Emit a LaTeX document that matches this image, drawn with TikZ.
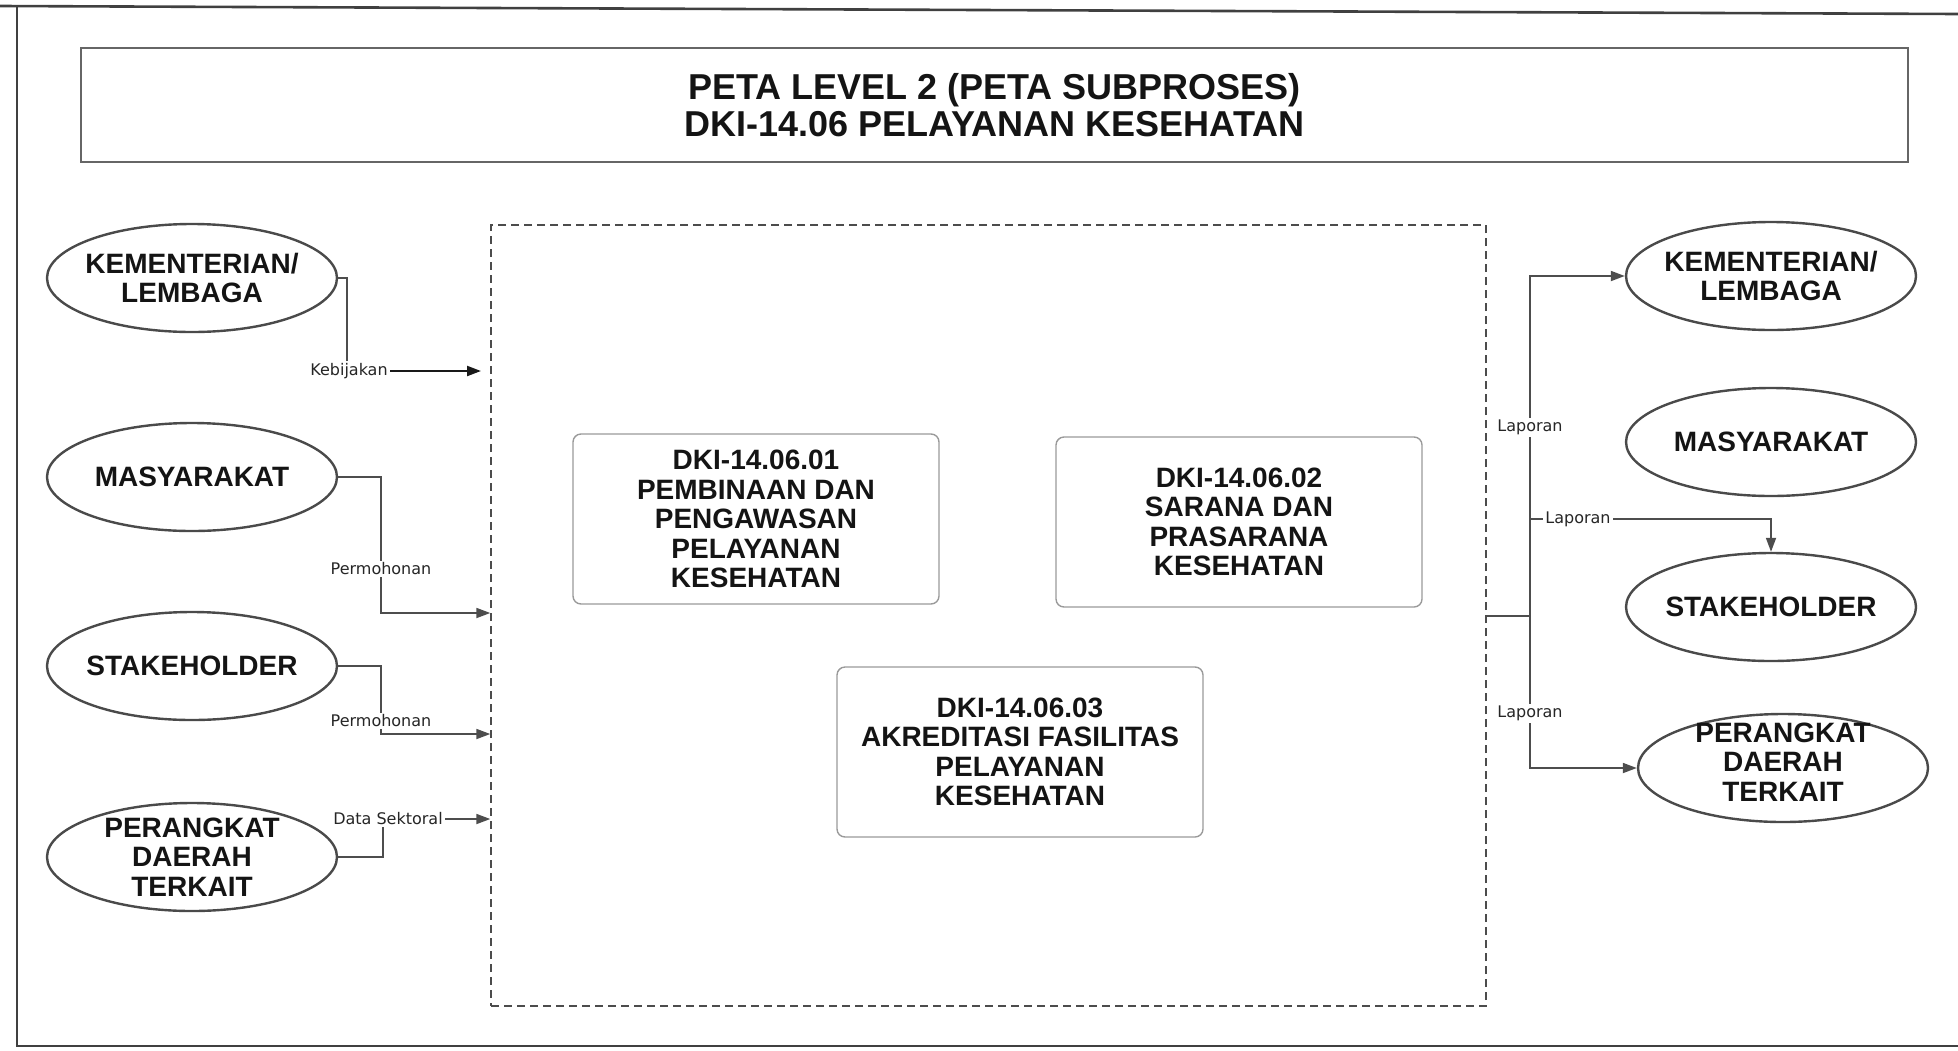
\documentclass[tikz,border=0pt]{standalone}
\usepackage{fontspec}
\setmainfont{Liberation Sans}
\newfontfamily\lblfont{DejaVu Sans}
\usetikzlibrary{arrows.meta,shapes.geometric,fit}
\definecolor{framegray}{HTML}{404040}
\definecolor{ellgray}{HTML}{4A4A4A}
\definecolor{boxgray}{HTML}{9A9A9A}
\definecolor{linegray}{HTML}{4D4D4D}
\definecolor{txt}{HTML}{141414}
\begin{document}
\begin{tikzpicture}[x=0.5pt,y=-0.5pt,
  ell/.style={draw=ellgray, line width=1.2pt, ellipse, minimum width=145pt, minimum height=54pt, inner sep=0pt},
  elltxt/.style={font=\bfseries\fontsize{14}{14.8}\selectfont, align=center, inner sep=0pt, text=txt},
  procbox/.style={draw=boxgray, line width=0.7pt, rounded corners=4pt, minimum width=183pt, minimum height=85pt, align=center, font=\bfseries\fontsize{14}{14.75}\selectfont, inner sep=0pt, text=txt},
  conn/.style={draw=linegray, line width=0.9pt},
  arr/.style={conn, -{Triangle[length=7pt,width=5pt]}},
  lbl/.style={font=\lblfont\fontsize{8}{9}\selectfont, text=black!85, fill=white, inner sep=1pt}
]
\useasboundingbox (0,0) rectangle (1958,1050);
% outer frame
\draw[framegray, line width=1.3pt] (0,6) -- (1958,14);
\draw[framegray, line width=1.3pt] (17,6) -- (17,1046) -- (1958,1046);
% title
\node[draw=black!60, line width=1pt, minimum width=913.5pt, minimum height=57pt, align=center,
      font=\bfseries\fontsize{18}{18.5}\selectfont, text=txt] (title) at (994.5,105)
  {PETA LEVEL 2 (PETA SUBPROSES)\\DKI-14.06 PELAYANAN KESEHATAN};
% dashed container
\node[draw=black!70, line width=0.7pt, dash pattern=on 4pt off 2.5pt, fit={(491,225) (1486,1006)}, inner sep=0pt] (dbox) {};
% process boxes
\node[procbox] (p1) at (756,519) {DKI-14.06.01\\PEMBINAAN DAN\\PENGAWASAN\\PELAYANAN\\KESEHATAN};
\node[procbox] (p2) at (1239,522) {DKI-14.06.02\\SARANA DAN\\PRASARANA\\KESEHATAN};
\node[procbox] (p3) at (1020,752) {DKI-14.06.03\\AKREDITASI FASILITAS\\PELAYANAN\\KESEHATAN};
% left ellipses
\node[ell] (lk) at (192,278) {};
\node[elltxt] (lkt) at (lk) {KEMENTERIAN/\\LEMBAGA};
\node[ell] (lm) at (192,477) {};
\node[elltxt] (lmt) at (lm) {MASYARAKAT};
\node[ell] (ls) at (192,666) {};
\node[elltxt] (lst) at (ls) {STAKEHOLDER};
\node[ell] (lp) at (192,857) {};
\node[elltxt] (lpt) at (lp) {PERANGKAT\\DAERAH\\TERKAIT};
% right ellipses
\node[ell] (rk) at (1771,276) {};
\node[elltxt] (rkt) at (rk) {KEMENTERIAN/\\LEMBAGA};
\node[ell] (rm) at (1771,442) {};
\node[elltxt] (rmt) at (rm) {MASYARAKAT};
\node[ell] (rs) at (1771,607) {};
\node[elltxt] (rst) at (rs) {STAKEHOLDER};
\node[ell] (rp) at (1783,768) {};
\node[elltxt] (rpt) at ([yshift=3pt]rp.center) {PERANGKAT\\DAERAH\\TERKAIT};
% left connectors
\coordinate (kend) at (481,371);
\draw[conn] (lk.east) -| (347,371);
\draw[arr, draw=black!90, line width=1.1pt] (347,371) -- (kend);
\node[lbl] (l1) at (349,371) {Kebijakan};
\draw[arr] (lm.east) -| (381,613) -- (dbox.west |- 0,613);
\node[lbl] (l2) at (381,569) {Permohonan};
\draw[arr] (ls.east) -| (381,734) -- (dbox.west |- 0,734);
\node[lbl] (l3) at (381,721) {Permohonan};
\draw[arr] (lp.east) -| (383,819) -- (dbox.west |- 0,819);
\node[lbl] (l4) at (388,819) {Data Sektoral};
% right connectors
\coordinate (junc) at (1530,616);
\draw[conn] (dbox.east |- 0,616) -- (junc);
\draw[arr] (junc) |- (rk.west);
\draw[arr] (junc) |- (rp.west);
\draw[arr] (1530,519) -| (rs.north);
\node[lbl] (r1) at (1530,427) {Laporan};
\node[lbl] (r2) at (1578,519) {Laporan};
\node[lbl] (r3) at (1530,713) {Laporan};
\end{tikzpicture}
\end{document}
